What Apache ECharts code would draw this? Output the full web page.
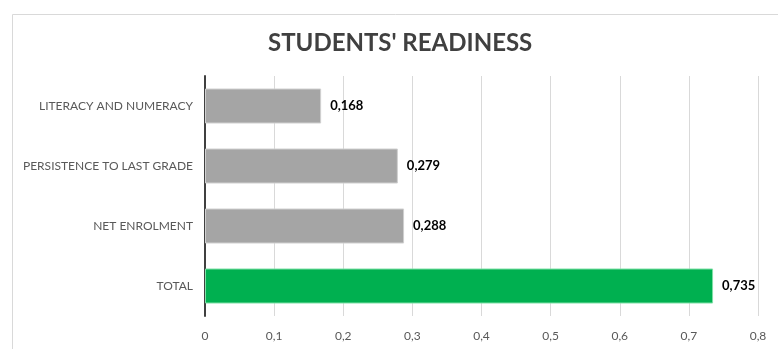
<!DOCTYPE html>
<html><head><meta charset="utf-8">
<script src="https://cdn.jsdelivr.net/npm/echarts@6/dist/echarts.min.js"></script>
<style>html,body{margin:0;padding:0;background:#fff}#c{width:778px;height:349px}</style>
</head><body><div id="c"></div>
<script>
const categories = ["LITERACY AND NUMERACY", "PERSISTENCE TO LAST GRADE", "NET ENROLMENT", "TOTAL"];
const values = [0.168, 0.279, 0.288, 0.735];
const barColors = ["#a5a5a5", "#a5a5a5", "#a5a5a5", "#00b050"];
const xTicks = [0, 0.1, 0.2, 0.3, 0.4, 0.5, 0.6, 0.7, 0.8];

const chart = echarts.init(document.getElementById('c'), null, {renderer: 'canvas'});
const fmt = v => String(v).replace('.', ',');
chart.setOption({
  animation: false,
  graphic: [{type: 'rect', left: 10, top: 12, shape: {width: 790, height: 360}, style: {fill: 'none', stroke: '#d9d9d9', lineWidth: 1}}],
  title: {text: "STUDENTS' READINESS", left: 263, top: 26,
    textStyle: {fontFamily: 'Lato', fontWeight: 'bold', fontSize: 24, color: '#404040'}},
  grid: {left: 205, right: 20, top: 76, bottom: 33, containLabel: false},
  xAxis: {type: 'value', min: 0, max: 0.8, interval: 0.1,
    axisLine: {show: false}, axisTick: {show: false},
    splitLine: {lineStyle: {color: '#d9d9d9', width: 1}},
    axisLabel: {margin: 14, color: '#595959', fontFamily: 'Lato', fontSize: 12,
      formatter: v => fmt(Math.round(v * 10) / 10)}},
  yAxis: {type: 'category', data: categories, inverse: true,
    axisLine: {lineStyle: {color: '#404040', width: 2}}, axisTick: {show: false},
    axisLabel: {margin: 12, color: '#595959', fontFamily: 'Lato', fontSize: 12}},
  series: [{type: 'bar', barWidth: 35,
    data: values.map((v, i) => ({value: v, itemStyle: {color: barColors[i], borderColor: i === 3 ? '#7fe0a6' : '#d0d0d0', borderWidth: 1}})),
    label: {show: true, position: 'right', distance: 9, color: '#000', fontWeight: 'bold', fontFamily: 'Lato', fontSize: 13,
      formatter: p => fmt(p.value)}}]
});
</script></body></html>
